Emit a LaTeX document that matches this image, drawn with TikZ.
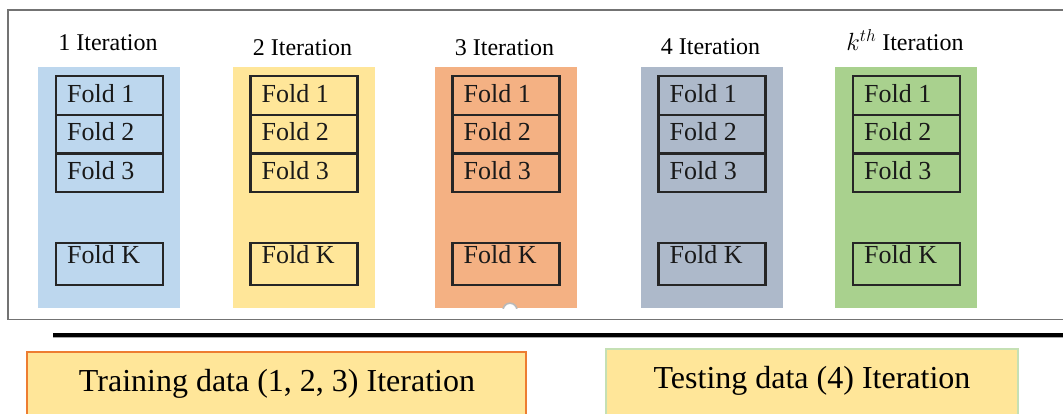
\documentclass[tikz,border=0pt]{standalone}
\usepackage{fontspec}
\setmainfont{Liberation Serif}
\usetikzlibrary{calc}
\definecolor{cblue}{HTML}{BDD7EE}
\definecolor{cyellow}{HTML}{FFE699}
\definecolor{corange}{HTML}{F4B183}
\definecolor{cgray}{HTML}{ADB9CA}
\definecolor{cgreen}{HTML}{A9D18E}
\definecolor{borange}{HTML}{ED7D31}
\definecolor{bgreen}{HTML}{C5E0B4}
\definecolor{dline}{HTML}{262626}
\tikzset{
  colbox/.style={draw=none, minimum width=142pt, minimum height=241pt, inner sep=0pt},
  foldbox/.style={draw=dline, line width=2.2pt, minimum width=107pt, inner sep=0pt},
  foldtxt/.style={font=\fontsize{26}{30}\selectfont, text=black!90, inner sep=0pt, anchor=west},
  titletxt/.style={font=\fontsize{24}{28}\selectfont, inner sep=0pt},
  bottxt/.style={font=\fontsize{32}{36}\selectfont, inner sep=0pt},
  legbox/.style={line width=1.5pt, fill=cyellow, inner sep=0pt}
}
\begin{document}
\begin{tikzpicture}[x=1pt,y=-1pt]
\useasboundingbox (0,0) rectangle (1063,413);
\clip (0,0) rectangle (1063,413);
% outer frame
\draw[draw=gray!90!black, line width=1.8pt] (1070,10) -- (8,10) -- (8,319.5) -- (1070,319.5);
\foreach \i/\cx/\col/\ttl/\ty in {1/109/cblue/{1 Iteration}/43, 2/303.5/cyellow/{2 Iteration}/48, 3/505.5/corange/{3 Iteration}/48, 4/711.5/cgray/{4 Iteration}/47, 5/906/cgreen/{$k^{th}$ Iteration}/40}{
  \node[colbox, fill=\col] (c\i) at (\cx,187.5) {};
  \node[titletxt] (t\i) at (\cx-1,\ty) {\ttl};
  \node[foldbox, minimum height=38.7pt] (fa\i) at (\cx+0.5,95.35) {};
  \node[foldbox, minimum height=38.7pt] (fb\i) at (\cx+0.5,134.05) {};
  \node[foldbox, minimum height=38.7pt] (fc\i) at (\cx+0.5,172.75) {};
  \node[foldbox, minimum height=42pt] (fk\i) at (\cx+0.5,264) {};
  \node[foldtxt] (ta\i) at ($(fa\i.west)+(12,-2)$) {Fold 1};
  \node[foldtxt] (tb\i) at ($(fb\i.west)+(12,-2)$) {Fold 2};
  \node[foldtxt] (tc\i) at ($(fc\i.west)+(12,-2)$) {Fold 3};
  \node[foldtxt] (tk\i) at ($(fk\i.north west)+(12,13)$) {Fold K};
}
% small handle circle on column 3
\draw[gray!55, line width=1.6pt, fill=white] (c3.south) ++(4.5,2) circle (7pt);
\fill[white] (430,309) rectangle (580,318.5);
% thick separator line
\coordinate (sepL) at (53,335);
\coordinate (sepR) at (1070,335);
\draw[gray!70, line width=4.5pt] ($(sepL)+(0,1)$) -- ($(sepR)+(0,1)$);
\draw[black, line width=3.2pt] (sepL) -- (sepR);
% legend boxes
\node[legbox, draw=borange, minimum width=499pt, minimum height=70pt] (train) at (276.5,387) {};
\node[bottxt] (traintxt) at (277,384) {Training data (1, 2, 3) Iteration};
\node[legbox, draw=bgreen, minimum width=412pt, minimum height=72pt] (test) at (812,385) {};
\node[bottxt] (testtxt) at (812,381) {Testing data (4) Iteration};
\end{tikzpicture}
\end{document}
